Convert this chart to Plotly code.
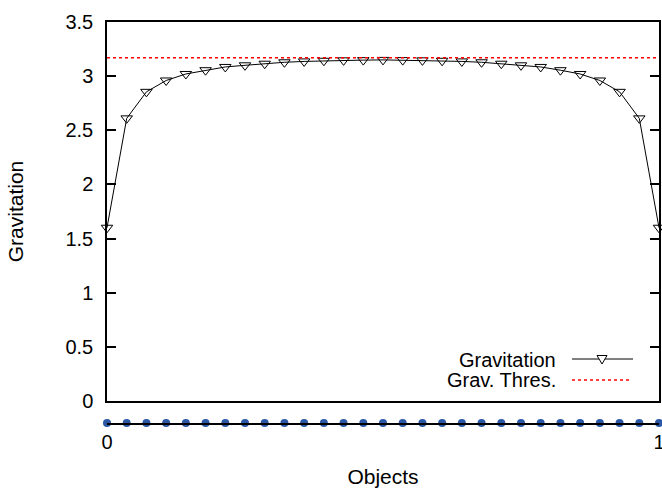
import numpy as np
import plotly.graph_objects as go

# ---- data ----
n_objects = 29
x_pos = np.linspace(0, 1, n_objects)
gravitation = [1.60, 2.61, 2.855, 2.96, 3.02, 3.055, 3.085, 3.10, 3.115, 3.128,
               3.136, 3.142, 3.146, 3.148, 3.15, 3.148, 3.146, 3.142, 3.136, 3.128,
               3.115, 3.10, 3.085, 3.055, 3.02, 2.96, 2.855, 2.61, 1.60]
grav_threshold = 3.17
y_ticks = [0, 0.5, 1, 1.5, 2, 2.5, 3, 3.5]
y_ticklabels = ["0", "0.5", "1", "1.5", "2", "2.5", "3", "3.5"]
x_ticks = [0, 1]
x_ticklabels = ["0", "1"]
series_names = ["Gravitation", "Grav. Thres."]

FONT = "Liberation Sans, Arial, Helvetica, sans-serif"
W, H = 662, 488
L, R, T, B = 107, 3, 22, 65
plot_h = H - T - B
plot_w = W - L - R
main_bottom_px = 401


def px_x(px):
    return (px - L) / plot_w


def px_y(py):
    return (H - B - py) / plot_h


fig = go.Figure()

fig.add_trace(go.Scatter(
    x=x_pos, y=gravitation, mode="lines+markers",
    line=dict(color="black", width=1),
    marker=dict(symbol="triangle-down-open", size=10, color="black",
                line=dict(width=1, color="black")),
    xaxis="x", yaxis="y", showlegend=False, cliponaxis=False,
))
fig.add_trace(go.Scatter(
    x=[0, 1], y=[grav_threshold, grav_threshold], mode="lines",
    line=dict(color="red", width=1.3, dash="3px,3px"),
    xaxis="x", yaxis="y", showlegend=False,
))
fig.add_trace(go.Scatter(
    x=x_pos, y=[0] * n_objects, mode="markers",
    marker=dict(symbol="circle", size=8, color="#2a58a6"),
    xaxis="x2", yaxis="y2", showlegend=False, cliponaxis=False,
))

main_dom_bottom = px_y(main_bottom_px)

fig.update_layout(
    width=W, height=H,
    margin=dict(l=L, r=R, t=T, b=B),
    template="none",
    paper_bgcolor="white", plot_bgcolor="white",
    font=dict(family=FONT, size=20, color="black"),
    xaxis=dict(domain=[0, 1], range=[0, 1], anchor="y",
               showline=True, mirror=True, linecolor="black", linewidth=1.5,
               showticklabels=False, ticks="", showgrid=False, zeroline=False),
    yaxis=dict(domain=[main_dom_bottom, 1], range=[0, 3.5], anchor="x",
               showline=True, mirror="ticks", linecolor="black", linewidth=1.5,
               tickvals=y_ticks, ticktext=y_ticklabels, ticks="inside",
               ticklen=9, tickwidth=1.5, tickcolor="black",
               ticklabelstandoff=8,
               showgrid=False, zeroline=False,
               tickfont=dict(family=FONT, size=20),
               title=dict(text="Gravitation", standoff=36,
                          font=dict(family=FONT, size=21))),
    xaxis2=dict(domain=[0, 1], range=[0, 1], anchor="y2",
                showline=True, linecolor="black", linewidth=1.5,
                tickvals=x_ticks, ticktext=x_ticklabels, ticks="inside",
                ticklen=6, tickwidth=1, tickcolor="black",
                ticklabeloverflow="allow",
                showgrid=False, zeroline=False,
                tickfont=dict(family=FONT, size=20),
                title=dict(text="Objects", standoff=18,
                           font=dict(family=FONT, size=21))),
    yaxis2=dict(domain=[0, 0.03], range=[0, 1], anchor="x2",
                showline=False, showticklabels=False, ticks="",
                showgrid=False, zeroline=False),
)

# ---- manual legend (gnuplot style: text on the left, sample on the right) ----
leg_rows = [(series_names[0], 359.5), (series_names[1], 380)]
for name, py in leg_rows:
    fig.add_annotation(x=px_x(558), y=px_y(py), xref="paper", yref="paper",
                       text=name, showarrow=False, xanchor="right",
                       yanchor="middle", font=dict(family=FONT, size=20))

fig.add_shape(type="line", xref="paper", yref="paper",
              x0=px_x(572), x1=px_x(633), y0=px_y(359), y1=px_y(359),
              line=dict(color="black", width=1))
cx, cy = 602, 359
tri = (f"M {px_x(cx - 5)} {px_y(cy - 3.5)} L {px_x(cx + 5)} {px_y(cy - 3.5)} "
       f"L {px_x(cx)} {px_y(cy + 5)} Z")
fig.add_shape(type="path", xref="paper", yref="paper", path=tri,
              line=dict(color="black", width=1), fillcolor="white")
fig.add_shape(type="line", xref="paper", yref="paper",
              x0=px_x(572), x1=px_x(631), y0=px_y(380), y1=px_y(380),
              line=dict(color="red", width=1.3, dash="3px,3px"))

fig.write_html("out.html",
               config={"displayModeBar": False},
               post_script="document.body.style.margin='0';"
                           "document.body.style.overflow='hidden';")
